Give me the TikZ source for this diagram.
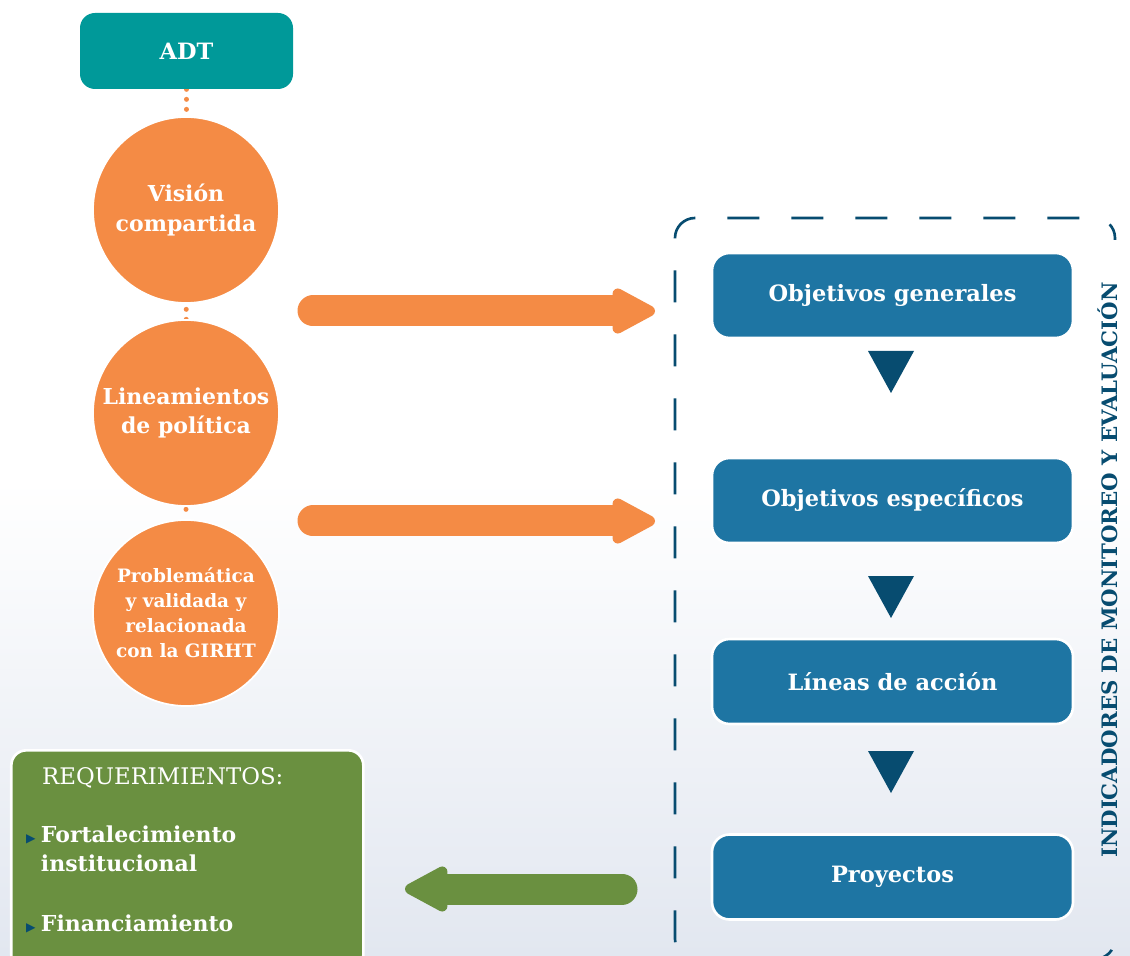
\documentclass[tikz,border=0pt]{standalone}
\usepackage{fontspec}
\setmainfont{DejaVu Serif}
\newfontfamily\symfont{DejaVu Sans}
\usepackage{tikz}
\usetikzlibrary{arrows.meta, calc}
\pgfdeclarelayer{bg}
\pgfsetlayers{bg,main}

\definecolor{adtteal}{RGB}{0,153,153}
\definecolor{orng}{RGB}{244,139,69}
\definecolor{boxblue}{RGB}{30,117,163}
\definecolor{navy}{RGB}{7,76,112}
\definecolor{reqgreen}{RGB}{106,144,64}
\definecolor{bgblue}{RGB}{226,231,240}

\tikzset{
  adtbox/.style={rectangle, rounded corners=0.3cm, fill=adtteal, text=white,
    minimum width=4.26cm, minimum height=1.52cm, font=\bfseries\fontsize{12.8}{15}\selectfont},
  stage/.style={circle, fill=orng, draw=white, line width=1pt, text=white,
    minimum size=3.72cm, align=center, inner sep=0pt},
  objbox/.style={rectangle, rounded corners=0.35cm, fill=boxblue, draw=white, line width=1.5pt,
    text=white, minimum width=7.22cm, minimum height=1.7cm,
    font=\bfseries\fontsize{12.8}{15}\selectfont},
  bigarrow/.style={line width=0.62cm, line cap=round,
    -{Triangle[length=0.98cm, width=0.98cm, line width=6pt, round]}},
  reqtext/.style={anchor=west, text=white, font=\bfseries\fontsize{12.5}{15}\selectfont},
}
\newcommand{\bul}{{\symfont\color{navy}\fontsize{7}{8}\selectfont ▶}\hspace{3pt}}

\begin{document}
\begin{tikzpicture}
    \useasboundingbox (0,0) rectangle (22.6,-19.12);

    % left column: ADT and the three circles
    \node[adtbox] (adt) at (3.73,-1.02) {ADT};
    \node[stage, font=\bfseries\fontsize{12.5}{17}\selectfont] (vision) at (3.72,-4.2)
      {Visión\\compartida};
    \node[stage, font=\bfseries\fontsize{12.5}{17}\selectfont] (lineam) at (3.72,-8.26)
      {Lineamientos\\de política};
    \node[stage, font=\bfseries\fontsize{10.5}{14.2}\selectfont] (prob) at (3.72,-12.26)
      {Problemática\\y validada y\\relacionada\\con la GIRHT};

    % right column
    \node[objbox] (og) at (17.85,-5.91) {Objetivos generales};
    \node[objbox] (oe) at (17.85,-10.01) {Objetivos específicos};
    \node[objbox] (la) at (17.85,-13.63) {Líneas de acción};
    \node[objbox] (pr) at (17.85,-17.54) {Proyectos};

    \foreach \y in {-7.44,-11.94,-15.44} {
      \fill[navy] (17.36,\y+0.42) -- (18.28,\y+0.42) -- (17.82,\y-0.42) -- cycle;
    }

    % dashed frame, open on the right where the label runs
    \draw[navy, line width=1.5pt, dash pattern=on 0.64cm off 0.64cm, dash phase=0.3cm,
      rounded corners=0.4cm] (22.3,-4.8) -- (22.3,-4.36) -- (13.5,-4.36)
      -- (13.5,-19.18) -- (22.3,-19.18) -- (22.3,-18.8);
    \node[rotate=90, text=navy, font=\bfseries\fontsize{12.1}{14}\selectfont] (indic)
      at (22.15,-11.4) {INDICADORES DE MONITOREO Y EVALUACIÓN};

    % requirements
    \node[rectangle, rounded corners=0.3cm, fill=reqgreen, draw=white, line width=1.5pt,
      minimum width=7.04cm, minimum height=4.4cm, anchor=north west] (req) at (0.2,-14.98) {};
    \node[reqtext, font=\fontsize{13}{15}\selectfont] (reqt) at (0.72,-15.56) {REQUERIMIENTOS:};
    \node[reqtext, align=left, anchor=north west] (reqa) at (0.4,-16.4)
      {\bul Fortalecimiento\\[1pt]\phantom{\bul}institucional};
    \node[reqtext] (reqb) at (0.4,-18.48) {\bul Financiamiento};

    % arrows
    \coordinate (a1s) at (6.26,-6.22);
    \coordinate (a1e) at (13.1,-6.22);
    \coordinate (a2s) at (6.26,-10.42);
    \coordinate (a2e) at (13.1,-10.42);
    \coordinate (a3s) at (12.44,-17.78);
    \coordinate (a3e) at (8.1,-17.78);
    \draw[bigarrow, orng] (a1s) -- (a1e);
    \draw[bigarrow, orng] (a2s) -- (a2e);
    \draw[bigarrow, reqgreen] (a3s) -- (a3e);

    \begin{pgfonlayer}{bg}
      \fill[white] (0,0) rectangle (22.6,-19.12);
      \shade[top color=white, bottom color=bgblue] (0,-9.6) rectangle (22.6,-19.12);
      \draw[orng, line width=0.1cm, line cap=round, dash pattern=on 0pt off 0.2cm]
        (adt.south) -- (prob.north);
    \end{pgfonlayer}
\end{tikzpicture}
\end{document}
